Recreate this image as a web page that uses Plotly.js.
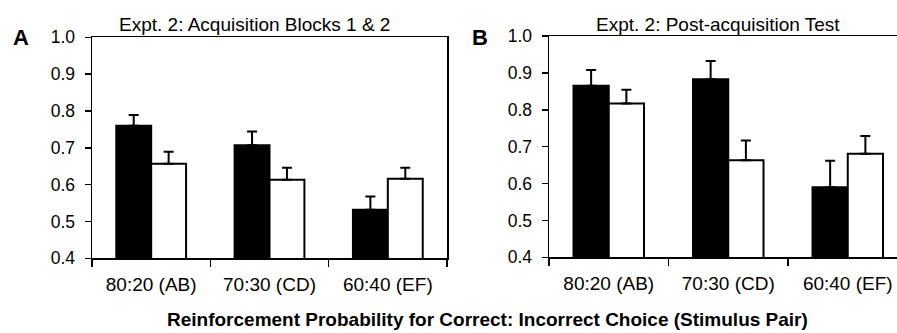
<!DOCTYPE html>
<html>
<head>
<meta charset="utf-8">
<script src="https://cdn.plot.ly/plotly-3.0.1.min.js"></script>
<style>html,body{margin:0;padding:0;background:#fff;}#chart{width:897px;height:333px;}</style>
</head>
<body>
<div id="chart"></div>
<script>
const categories = ['80:20 (AB)', '70:30 (CD)', '60:40 (EF)'];
const acqBlack = [0.760, 0.707, 0.532];
const acqBlackErr = [0.029, 0.037, 0.036];
const acqWhite = [0.657, 0.613, 0.616];
const acqWhiteErr = [0.032, 0.033, 0.030];
const testBlack = [0.865, 0.883, 0.590];
const testBlackErr = [0.043, 0.049, 0.072];
const testWhite = [0.817, 0.663, 0.681];
const testWhiteErr = [0.037, 0.054, 0.048];
const yTicks = [0.4, 0.5, 0.6, 0.7, 0.8, 0.9, 1.0];

const W = 897, H = 333;
const FONT = '"Liberation Sans", Arial, Helvetica, sans-serif';

function errY(arr) {
  return {type: 'data', symmetric: false, array: arr, arrayminus: arr.map(() => 0),
          color: '#000', thickness: 2, width: 5};
}
function bar(y, err, fill, xa, ya) {
  return {type: 'bar', x: categories, y: y, xaxis: xa, yaxis: ya,
          marker: {color: fill, line: {color: '#000', width: 2}},
          error_y: errY(err), showlegend: false, hoverinfo: 'skip'};
}

const data = [
  bar(acqBlack, acqBlackErr, '#000', 'x', 'y'),
  bar(acqWhite, acqWhiteErr, '#fff', 'x', 'y'),
  bar(testBlack, testBlackErr, '#000', 'x2', 'y2'),
  bar(testWhite, testWhiteErr, '#fff', 'x2', 'y2')
];

function xAx(domain, range, anchor) {
  return {domain: domain, range: range, anchor: anchor, type: 'category',
          tickson: 'boundaries', ticks: 'outside', ticklen: 7, tickwidth: 1.5, tickcolor: '#000',
          showline: true, linecolor: '#000', linewidth: 1.5, mirror: true,
          showgrid: false, zeroline: false, fixedrange: true,
          tickfont: {family: FONT, size: 19, color: '#000'}, ticklabelstandoff: 8};
}
function yAx(domain, anchor, mirror) {
  return {domain: domain, range: [0.4, 1.0], anchor: anchor,
          tickvals: yTicks, tickformat: '.1f',
          ticks: 'outside', ticklen: 6, tickwidth: 1.5, tickcolor: '#000',
          showline: true, linecolor: '#000', linewidth: 1.5, mirror: mirror,
          showgrid: false, zeroline: false, fixedrange: true,
          tickfont: {family: FONT, size: 17.5, color: '#000'}, ticklabelstandoff: 6};
}

function ann(text, px, py, size, bold) {
  return {xref: 'paper', yref: 'paper', x: px / W, y: 1 - py / H,
          xanchor: 'center', yanchor: 'middle', showarrow: false,
          text: bold ? '<b>' + text + '</b>' : text,
          font: {family: FONT, size: size, color: '#000'}};
}

const layout = {
  width: W, height: H,
  margin: {l: 0, r: 0, t: 0, b: 0},
  paper_bgcolor: '#fff', plot_bgcolor: '#fff',
  barmode: 'group', bargap: 0.41, bargroupgap: 0,
  xaxis: xAx([92 / W, 447 / W], [-0.5, 2.5], 'y'),
  yaxis: yAx([(H - 258.3) / H, (H - 37.3) / H], 'x', true),
  xaxis2: xAx([549 / W, 1], [-0.5, 2.412], 'y2'),
  yaxis2: yAx([(H - 257.3) / H, (H - 36) / H], 'x2', false),
  annotations: [
    ann('Expt. 2: Acquisition Blocks 1 &amp; 2', 255, 24, 19, false),
    ann('Expt. 2: Post-acquisition Test', 718, 24, 19, false),
    ann('A', 20.5, 37.5, 22, true),
    ann('B', 479.5, 37.5, 22, true),
    ann('Reinforcement Probability for Correct: Incorrect Choice (Stimulus Pair)', 487, 319, 19, true)
  ]
};

Plotly.newPlot('chart', data, layout, {displayModeBar: false, staticPlot: true});
</script>
</body>
</html>
